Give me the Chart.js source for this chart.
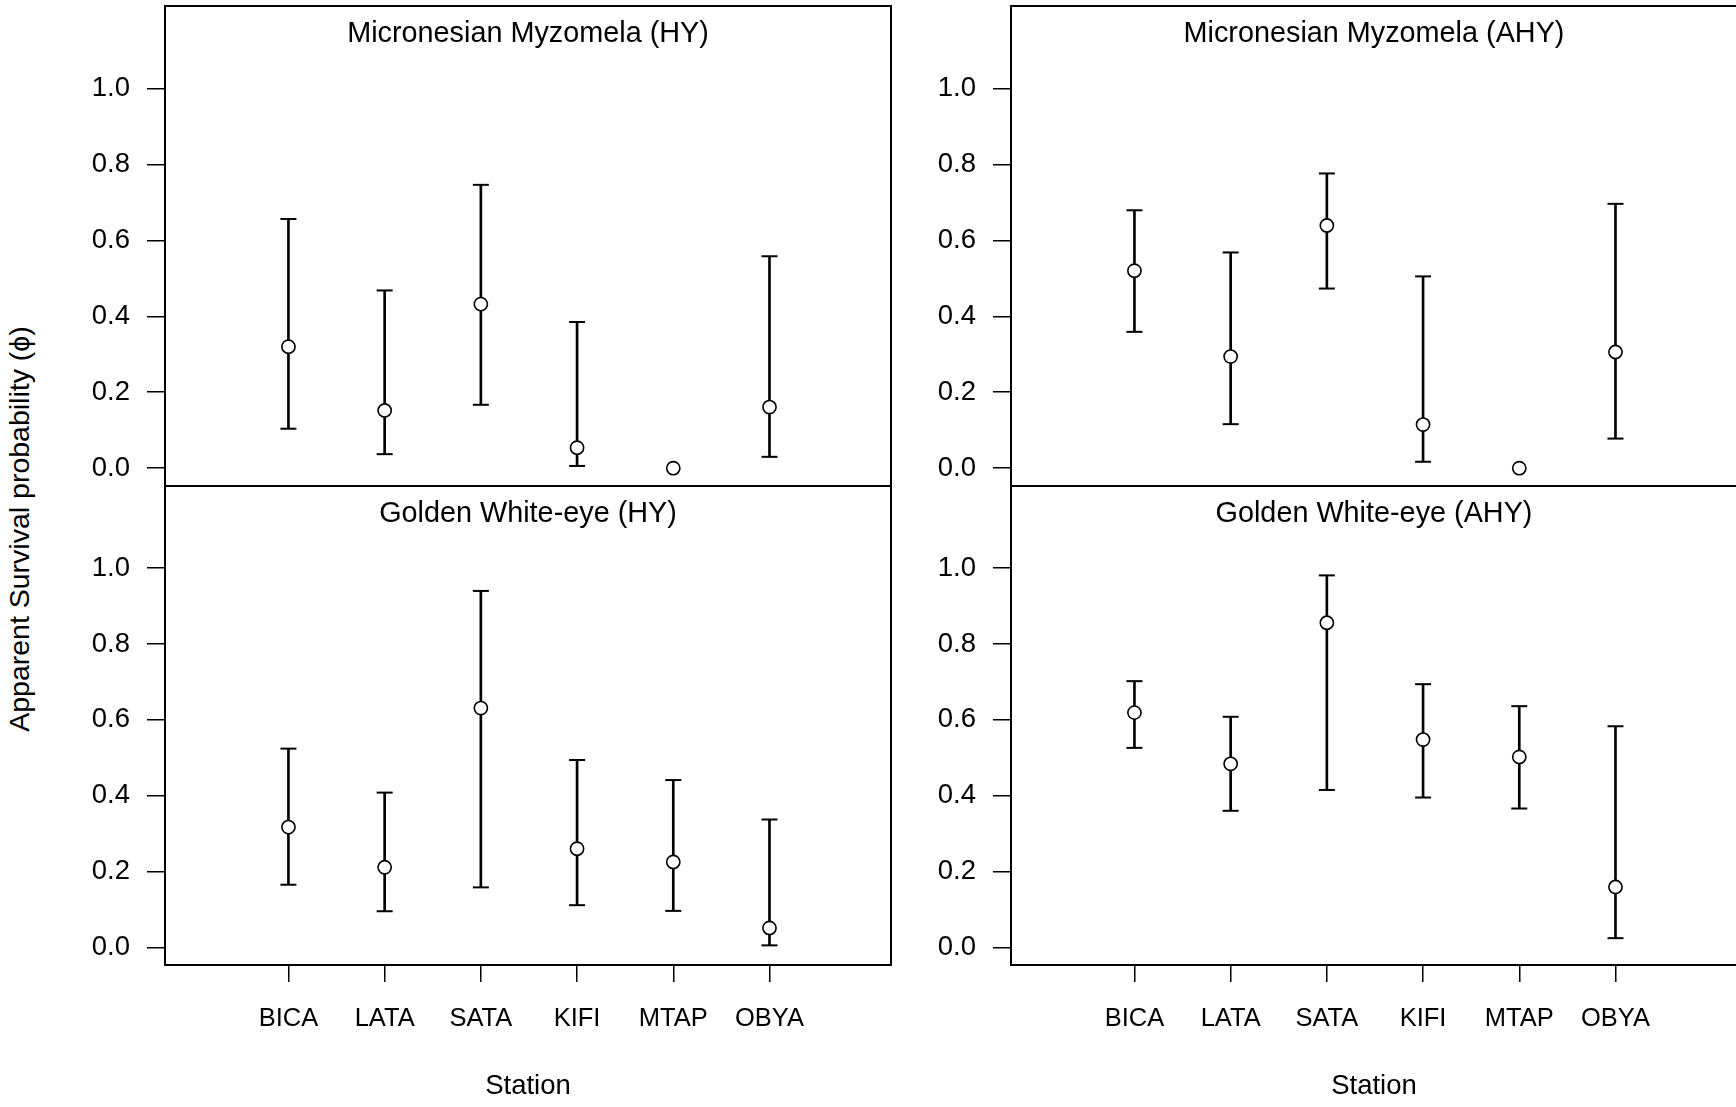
<!DOCTYPE html>
<html>
<head>
<meta charset="utf-8">
<script src="https://cdn.jsdelivr.net/npm/chart.js@4.4.0/dist/chart.umd.min.js"></script>
<style>
  html, body { margin: 0; padding: 0; background: #fff; overflow: hidden; }
  body { width: 1736px; height: 1107px; position: relative; }
  canvas { position: absolute; }
  #ytitle {
    position: absolute; left: -327px; top: 509px; width: 700px; height: 40px;
    line-height: 40px; text-align: center; white-space: nowrap; color: #000;
    font: 28.5px "Liberation Sans", Arial, sans-serif; transform: rotate(-90deg);
  }
</style>
</head>
<body>
<div id="ytitle">Apparent Survival probability (ϕ)</div>
<canvas id="mmHy" width="900" height="490" style="left:0;top:0"></canvas>
<canvas id="mmAhy" width="900" height="490" style="left:846px;top:0"></canvas>
<canvas id="gweHy" width="900" height="627" style="left:0;top:480px"></canvas>
<canvas id="gweAhy" width="900" height="627" style="left:846px;top:480px"></canvas>
<script>
// stations along the x axis
const stations = ["BICA", "LATA", "SATA", "KIFI", "MTAP", "OBYA"];
const yTicks = [0, 0.2, 0.4, 0.6, 0.8, 1.0];

// Micronesian Myzomela, hatch-year
const mmHyEst  = [0.320, 0.152, 0.432, 0.054, 0.000, 0.161];
const mmHyLow  = [0.104, 0.037, 0.167, 0.006, null, 0.030];
const mmHyHigh = [0.656, 0.468, 0.746, 0.385, null, 0.558];

// Micronesian Myzomela, after hatch-year
const mmAhyEst  = [0.520, 0.294, 0.639, 0.115, 0.000, 0.306];
const mmAhyLow  = [0.359, 0.116, 0.473, 0.017, null, 0.078];
const mmAhyHigh = [0.679, 0.568, 0.776, 0.505, null, 0.696];

// Golden White-eye, hatch-year
const gweHyEst  = [0.317, 0.211, 0.631, 0.260, 0.225, 0.051];
const gweHyLow  = [0.165, 0.095, 0.158, 0.111, 0.096, 0.005];
const gweHyHigh = [0.524, 0.408, 0.940, 0.494, 0.441, 0.337];

// Golden White-eye, after hatch-year
const gweAhyEst  = [0.619, 0.484, 0.856, 0.548, 0.502, 0.159];
const gweAhyLow  = [0.526, 0.360, 0.415, 0.395, 0.366, 0.024];
const gweAhyHigh = [0.702, 0.608, 0.981, 0.694, 0.636, 0.583];

const FONT = '"Liberation Sans", Arial, sans-serif';

// box round the plot area + panel title inside it
const panelFrame = {
  id: "panelFrame",
  afterDraw(chart, args, opts) {
    const { ctx, chartArea: a } = chart;
    ctx.save();
    ctx.strokeStyle = "#000";
    ctx.lineWidth = 2;
    ctx.strokeRect(a.left, a.top, a.right - a.left, a.bottom - a.top);
    ctx.fillStyle = "#000";
    ctx.font = "28.8px " + FONT;
    ctx.textAlign = "center";
    ctx.textBaseline = "alphabetic";
    ctx.fillText(opts.text, (a.left + a.right) / 2, a.top + 35.8);
    ctx.restore();
  }
};

function toPoints(vals) {
  return vals
    .map((v, i) => (v == null ? null : { x: i + 1, y: v }))
    .filter(p => p);
}

function makePanel(id, title, est, low, high, showX) {
  const bars = stations
    .map((s, i) => (low[i] == null ? null : { x: i + 1, y: [low[i], high[i]] }))
    .filter(b => b);

  return new Chart(document.getElementById(id), {
    type: "scatter",
    data: {
      datasets: [
        {
          type: "scatter", data: toPoints(est), order: 0,
          pointStyle: "circle", radius: 6.6, borderWidth: 1.6,
          borderColor: "#000", backgroundColor: "#fff"
        },
        {
          type: "bar", data: bars, order: 3,
          backgroundColor: "#000", barThickness: 2, borderWidth: 0
        },
        {
          type: "scatter", data: toPoints(low), order: 2,
          pointStyle: "line", radius: 8, borderWidth: 2, borderColor: "#000"
        },
        {
          type: "scatter", data: toPoints(high), order: 2,
          pointStyle: "line", radius: 8, borderWidth: 2, borderColor: "#000"
        }
      ]
    },
    options: {
      responsive: false,
      animation: false,
      events: [],
      layout: {
        autoPadding: false,
        padding: { top: 6, right: 9, bottom: showX ? 0 : 4, left: 0 }
      },
      plugins: {
        legend: { display: false },
        tooltip: { enabled: false },
        panelFrame: { text: title }
      },
      scales: {
        x: {
          type: "linear",
          display: showX,
          min: -0.283,
          max: 7.263,
          offset: false,
          afterBuildTicks: s => { s.ticks = stations.map((_, i) => ({ value: i + 1 })); },
          afterFit: s => {
            s.height = showX ? 142 : 0;
            s.paddingLeft = 0;
            s.paddingRight = 0;
          },
          border: { display: false },
          grid: { offset: false, drawOnChartArea: false, drawTicks: true, tickLength: 17, color: "#000", lineWidth: 1.5 },
          ticks: {
            autoSkip: false, maxRotation: 0, padding: 22, color: "#000",
            font: { family: FONT, size: 25.5 },
            callback: v => stations[v - 1]
          },
          title: {
            display: true, text: "Station", color: "#000",
            font: { family: FONT, size: 27.5 },
            padding: { top: 0, bottom: 4.5 }
          }
        },
        y: {
          min: -0.0468,
          max: 1.2168,
          afterBuildTicks: s => { s.ticks = yTicks.map(v => ({ value: v })); },
          afterFit: s => {
            s.width = 165;
            s.paddingTop = 0;
            s.paddingBottom = 0;
          },
          border: { display: false },
          grid: { drawOnChartArea: false, drawTicks: true, tickLength: 18, color: "#000", lineWidth: 1.5 },
          ticks: {
            padding: 17, color: "#000",
            font: { family: FONT, size: 27.5 },
            callback: v => v.toFixed(1)
          }
        }
      }
    },
    plugins: [panelFrame]
  });
}

makePanel("mmHy", "Micronesian Myzomela (HY)", mmHyEst, mmHyLow, mmHyHigh, false);
makePanel("mmAhy", "Micronesian Myzomela (AHY)", mmAhyEst, mmAhyLow, mmAhyHigh, false);
makePanel("gweHy", "Golden White-eye (HY)", gweHyEst, gweHyLow, gweHyHigh, true);
makePanel("gweAhy", "Golden White-eye (AHY)", gweAhyEst, gweAhyLow, gweAhyHigh, true);
</script>
</body>
</html>
